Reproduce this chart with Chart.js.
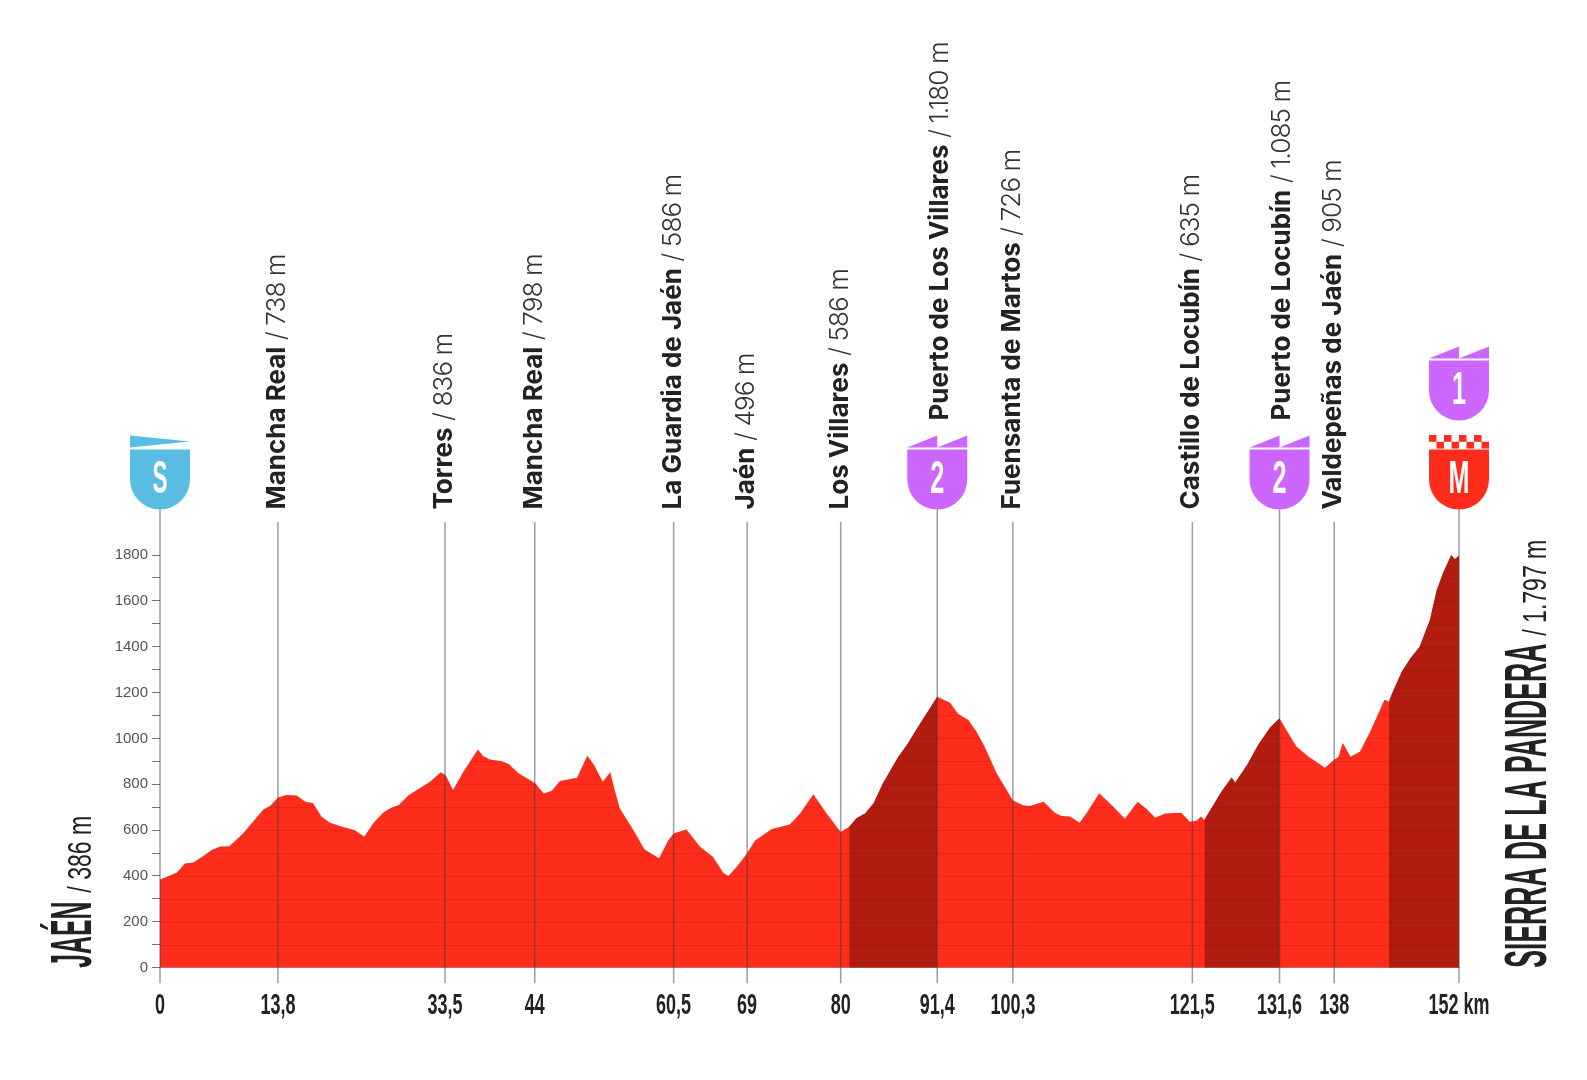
<!DOCTYPE html>
<html>
<head>
<meta charset="utf-8">
<title>Perfil de etapa</title>
<script src="https://cdn.jsdelivr.net/npm/chart.js@4"></script>
<style>
    html, body { margin: 0; background: #fff; }
    canvas { display: block; }
</style>
</head>
<body>
<canvas id="profileChart" width="1587" height="1080"></canvas>
<script>
// profile
const profileKm = [0, 1.95, 2.93, 3.9, 5.07, 6.05, 7.02, 8.11, 9.75, 10.7, 12.1, 12.87, 13.85, 14.8, 16, 17, 17.9, 18.9, 19.9, 21.3, 22.8, 23.9, 25, 26.1, 27.1, 27.9, 29.05, 30.2, 31.6, 32.85, 33.4, 34.3, 35.5, 36.7, 37.2, 37.8, 38.6, 40, 40.8, 42, 43.9, 44.9, 45.85, 46.8, 48.8, 50, 50.8, 51.8, 52.7, 53.2, 53.8, 55.4, 56.7, 58.4, 59.5, 60.15, 61.6, 63.2, 64.7, 65.9, 66.5, 67.5, 68.7, 69.6, 71.6, 73.7, 74.9, 76.45, 78, 79.65, 80.65, 81.5, 82.5, 83.5, 84.6, 86.4, 87.4, 88.6, 89.7, 90.95, 92.45, 93.4, 94.6, 95.55, 96.5, 97.9, 99.8, 101, 101.8, 103.4, 104.7, 105.5, 106.5, 107.6, 108.4, 109.9, 111.55, 112.9, 114.4, 115.45, 116.45, 117.6, 119.5, 120.5, 121.3, 121.8, 122.2, 124.2, 125.4, 125.8, 127.2, 128.5, 129.9, 131, 131.8, 133, 134.4, 135.3, 136.3, 137.4, 137.9, 138.4, 139.3, 140.4, 141.6, 143.3, 143.8, 144.1, 145.3, 146.3, 147.4, 148, 148.6, 149.4, 150.2, 151.1, 151.5, 152];
const profileElevation = [385, 414, 455, 459, 487, 513, 529, 530, 586, 629, 690, 705, 743, 753, 751, 724, 718, 658, 632, 615, 600, 571, 632, 676, 699, 708, 751, 778, 811, 852, 840, 775, 855, 923, 952, 923, 908, 900, 888, 847, 804, 760, 772, 814, 828, 924, 884, 811, 853, 775, 695, 600, 516, 477, 557, 586, 603, 528, 484, 414, 400, 440, 499, 554, 605, 625, 673, 756, 673, 592, 615, 652, 673, 717, 804, 920, 971, 1044, 1109, 1182, 1156, 1107, 1080, 1029, 964, 848, 729, 709, 705, 724, 676, 662, 659, 632, 673, 761, 702, 650, 724, 692, 654, 673, 676, 637, 641, 660, 644, 767, 830, 807, 884, 971, 1048, 1088, 1037, 964, 920, 898, 872, 907, 920, 981, 920, 942, 1029, 1170, 1160, 1189, 1291, 1349, 1400, 1459, 1516, 1647, 1727, 1800, 1781, 1797];
const climbRanges = [[80.65, 90.95], [122.2, 131], [143.8, 152]];

// where each tick sits on the drawn axis, and what is printed there
const tickKm = [0, 13.8, 33.35, 43.85, 60.1, 68.7, 79.65, 90.95, 99.8, 120.8, 131, 137.4, 152];
const tickLabels = ['0', '13,8', '33,5', '44', '60,5', '69', '80', '91,4', '100,3', '121,5', '131,6', '138', '152 km'];

const placeKm = [13.8, 33.35, 43.85, 60.1, 68.7, 79.65, 90.95, 99.8, 120.8, 131, 137.4];
const placeNames = ['Mancha Real', 'Torres', 'Mancha Real', 'La Guardia de Jaén', 'Jaén', 'Los Villares', 'Puerto de Los Villares', 'Fuensanta de Martos', 'Castillo de Locubín', 'Puerto de Locubín', 'Valdepeñas de Jaén'];
const placeHeights = ['738 m', '836 m', '798 m', '586 m', '496 m', '586 m', '1.180 m', '726 m', '635 m', '1.085 m', '905 m'];
const placeIsPass = [false, false, false, false, false, false, true, false, false, true, false];

const startName = 'JAÉN';
const startHeight = '/ 386 m';
const finishName = 'SIERRA DE LA PANDERA';
const finishHeight = '/ 1.797 m';

const RED = '#fe2c1b';
const DARK_RED = '#b01c10';
const BLUE = '#59bde3';
const PURPLE = '#cc66ff';
const TEXT = '#222222';
const LINE = 'rgba(60, 60, 60, 0.5)';

function inClimb(km) {
    return climbRanges.some(r => km >= r[0] && km <= r[1]);
}

const fullData = profileKm.map((km, i) => ({ x: km, y: profileElevation[i] }));
const climbData = profileKm.map((km, i) => ({ x: km, y: inClimb(km) ? profileElevation[i] : null }));

// text squeezed to a given width, the original uses a condensed face we don't have
function squeezed(ctx, text, x, y, font, width, align) {
    ctx.save();
    ctx.font = font;
    const w = ctx.measureText(text).width;
    const k = width / w;
    ctx.translate(x, y);
    ctx.scale(k, 1);
    ctx.textAlign = align || 'left';
    ctx.fillText(text, 0, 0);
    ctx.restore();
}

function shieldBody(ctx, cx, top, bottom, color) {
    const half = 30;
    const curve = bottom - half;
    ctx.fillStyle = color;
    ctx.beginPath();
    ctx.moveTo(cx - half, top);
    ctx.lineTo(cx + half, top);
    ctx.lineTo(cx + half, curve);
    ctx.arc(cx, curve, half, 0, Math.PI);
    ctx.closePath();
    ctx.fill();
}

function shieldLetter(ctx, letter, cx, bottom, width) {
    ctx.fillStyle = '#fff';
    ctx.textBaseline = 'alphabetic';
    squeezed(ctx, letter, cx, bottom - 17, 'bold 46px "Liberation Sans"', width, 'center');
}

function startShield(ctx, cx, bottom) {
    shieldBody(ctx, cx, bottom - 60, bottom, BLUE);
    ctx.fillStyle = BLUE;
    ctx.beginPath();
    ctx.moveTo(cx - 30, bottom - 74);
    ctx.lineTo(cx + 30, bottom - 68);
    ctx.lineTo(cx - 30, bottom - 62);
    ctx.closePath();
    ctx.fill();
    shieldLetter(ctx, 'S', cx, bottom, 15);
}

function climbShield(ctx, cx, bottom, cat) {
    shieldBody(ctx, cx, bottom - 60, bottom, PURPLE);
    ctx.fillStyle = PURPLE;
    [-30, 0].forEach(dx => {
        ctx.beginPath();
        ctx.moveTo(cx + dx, bottom - 62);
        ctx.lineTo(cx + dx + 30, bottom - 74);
        ctx.lineTo(cx + dx + 30, bottom - 62);
        ctx.closePath();
        ctx.fill();
    });
    shieldLetter(ctx, cat, cx, bottom, 14);
}

function finishShield(ctx, cx, bottom) {
    shieldBody(ctx, cx, bottom - 60, bottom, RED);
    ctx.fillStyle = RED;
    for (let i = 0; i < 8; i++) {
        const row = i % 2;
        ctx.fillRect(cx - 30 + i * 7.5, bottom - 74.5 + row * 6.8, 7.5, 6.8);
    }
    shieldLetter(ctx, 'M', cx, bottom, 21);
}

const stageDecor = {
    id: 'stageDecor',
    // horizontal lines only show inside the red, so paint them on top of what is there
    afterDatasetsDraw(chart) {
        const { ctx, chartArea, scales: { x, y } } = chart;
        ctx.save();
        ctx.globalCompositeOperation = 'source-atop';
        ctx.strokeStyle = 'rgba(0, 0, 0, 0.09)';
        ctx.lineWidth = 1;
        y.ticks.forEach(t => {
            const py = Math.round(y.getPixelForValue(t.value)) + 0.5;
            ctx.beginPath();
            ctx.moveTo(chartArea.left, py);
            ctx.lineTo(chartArea.right, py);
            ctx.stroke();
        });
        ctx.restore();
    },
    afterDraw(chart) {
        const { ctx, chartArea, scales: { x } } = chart;
        const shieldBottom = chartArea.top - 45.5;
        const lineBottom = chartArea.bottom + 15.5;

        ctx.save();
        ctx.strokeStyle = LINE;
        ctx.lineWidth = 1.5;
        // start, finish and passes come out of the shields, the rest stop under their label
        tickKm.forEach(km => {
            const i = placeKm.indexOf(km);
            const fromShield = i < 0 || placeIsPass[i];
            const px = x.getPixelForValue(km);
            ctx.beginPath();
            ctx.moveTo(px, fromShield ? shieldBottom : shieldBottom + 12.5);
            ctx.lineTo(px, lineBottom);
            ctx.stroke();
        });

        // km labels
        ctx.fillStyle = TEXT;
        ctx.textBaseline = 'alphabetic';
        x.ticks.forEach((t, i) => {
            const label = tickLabels[i];
            const px = x.getPixelForValue(t.value);
            const font = 'bold 29px "Liberation Sans"';
            ctx.font = font;
            squeezed(ctx, label, px, chartArea.bottom + 46.5, font, ctx.measureText(label).width * 0.62, 'center');
        });

        // place names, reading upwards
        placeNames.forEach((name, i) => {
            const px = x.getPixelForValue(placeKm[i]);
            ctx.save();
            ctx.translate(px + (placeIsPass[i] ? 10.5 : 7), placeIsPass[i] ? shieldBottom - 89 : shieldBottom);
            ctx.rotate(-Math.PI / 2);
            ctx.fillStyle = TEXT;
            ctx.textAlign = 'left';
            ctx.font = '700 26px Inter';
            ctx.letterSpacing = '0px';
            ctx.fillText(name, 0, 0);
            const w = ctx.measureText(name).width;
            ctx.font = '300 26px Inter';
            ctx.letterSpacing = '-0.9px';
            ctx.fillStyle = '#333333';
            ctx.fillText(' / ' + placeHeights[i], w, 0);
            ctx.restore();
        });
        ctx.letterSpacing = '0px';

        // shields
        startShield(ctx, x.getPixelForValue(0), shieldBottom);
        climbShield(ctx, x.getPixelForValue(90.95), shieldBottom, '2');
        climbShield(ctx, x.getPixelForValue(131), shieldBottom, '2');
        climbShield(ctx, x.getPixelForValue(152), shieldBottom - 89, '1');
        finishShield(ctx, x.getPixelForValue(152), shieldBottom);

        // start and finish names at both ends
        ctx.fillStyle = TEXT;
        ctx.save();
        ctx.translate(chartArea.left - 69.5, chartArea.bottom);
        ctx.rotate(-Math.PI / 2);
        squeezed(ctx, startName, 0, 0, 'bold 58px "Liberation Sans"', 66);
        squeezed(ctx, startHeight, 75, 0, '33px "Liberation Sans"', 77);
        ctx.restore();
        ctx.save();
        ctx.translate(chartArea.right + 87, chartArea.bottom);
        ctx.rotate(-Math.PI / 2);
        squeezed(ctx, finishName, 0, 0, 'bold 59px "Liberation Sans"', 324);
        squeezed(ctx, finishHeight, 332, 0, '33px "Liberation Sans"', 96);
        ctx.restore();
        ctx.restore();
    }
};

const ctx = document.getElementById('profileChart').getContext('2d');
const profileChart = new Chart(ctx, {
    type: 'line',
    data: {
        datasets: [{
            label: 'Puertos',
            data: climbData,
            fill: 'origin',
            backgroundColor: DARK_RED,
            borderWidth: 0,
            pointRadius: 0,
            tension: 0,
            spanGaps: false
        }, {
            label: 'Perfil',
            data: fullData,
            fill: 'origin',
            backgroundColor: RED,
            borderWidth: 0,
            pointRadius: 0,
            tension: 0
        }]
    },
    options: {
        responsive: false,
        animation: false,
        layout: {
            padding: { top: 555, left: 110, right: 128, bottom: 62.3 }
        },
        plugins: {
            legend: { display: false },
            tooltip: { enabled: false }
        },
        scales: {
            x: {
                type: 'linear',
                min: 0,
                max: 152,
                grid: { display: false },
                border: { display: true, color: '#999999', width: 1 },
                afterBuildTicks: scale => {
                    scale.ticks = tickKm.map(v => ({ value: v }));
                },
                ticks: { display: false, autoSkip: false, maxRotation: 0 },
                afterFit: scale => { scale.height = 50; }
            },
            y: {
                min: 0,
                max: 1800,
                grid: { drawOnChartArea: false, drawTicks: true, tickLength: 8, color: '#777777' },
                border: { display: false },
                ticks: {
                    stepSize: 100,
                    autoSkip: false,
                    padding: 4,
                    color: '#555555',
                    font: { family: '"Liberation Sans"', size: 15 },
                    callback: v => (v % 200 === 0 ? String(v) : '')
                },
                afterFit: scale => { scale.width = 50; }
            }
        }
    },
    plugins: [stageDecor]
});
</script>
</body>
</html>
